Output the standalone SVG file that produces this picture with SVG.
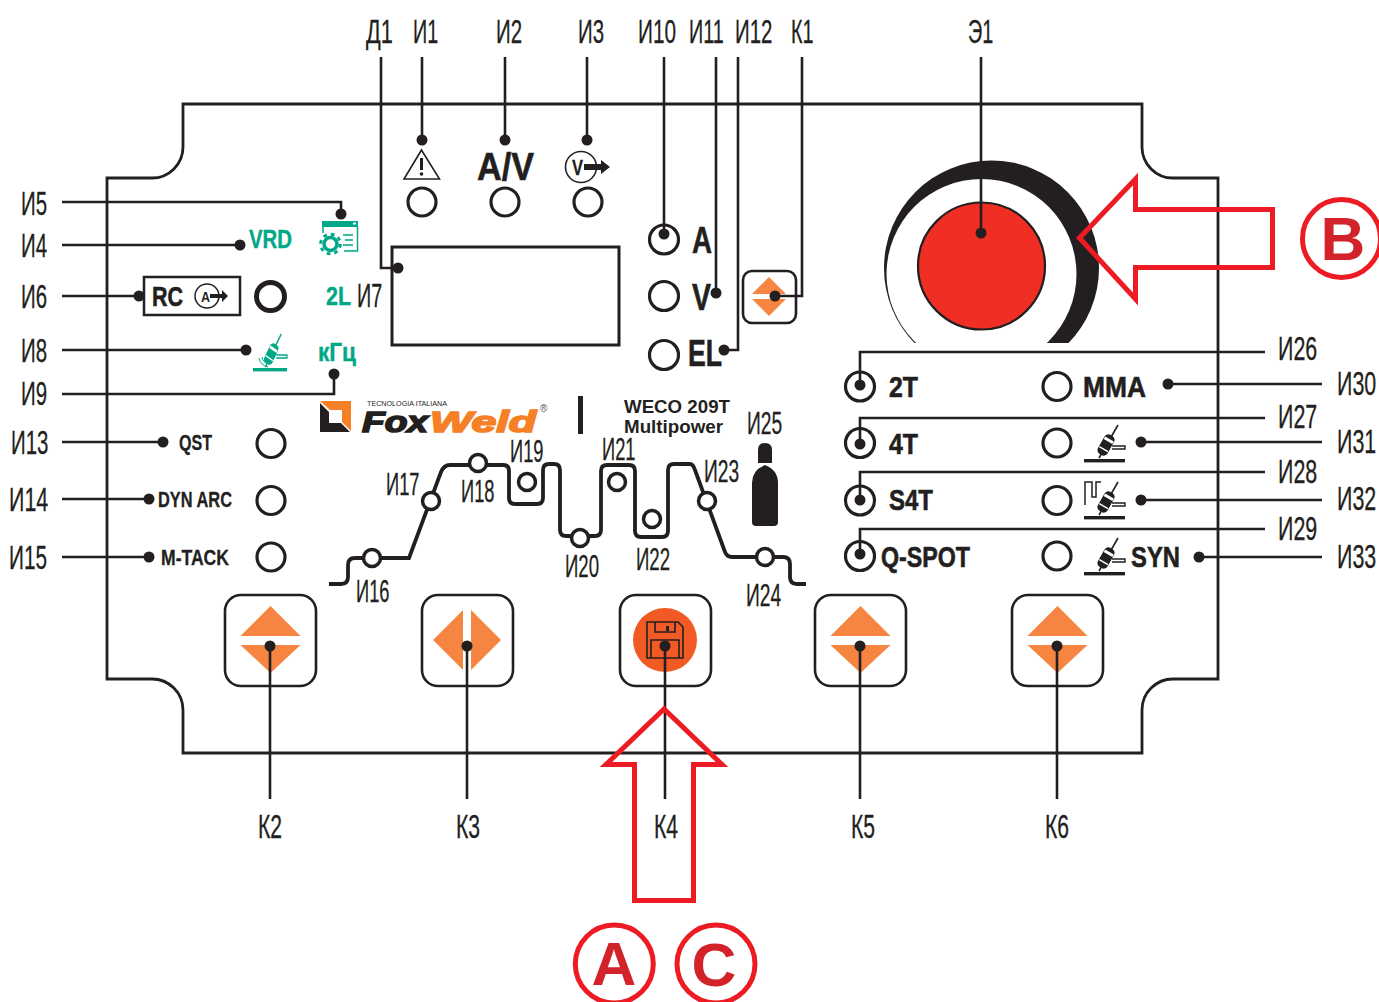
<svg xmlns="http://www.w3.org/2000/svg" xmlns:xlink="http://www.w3.org/1999/xlink" width="1379" height="1002" viewBox="0 0 1379 1002">
<style>
text{font-family:"Liberation Sans",Arial,sans-serif;fill:#231f20}
.l{font-size:33px;stroke:#231f20;stroke-width:.3}
.m{font-size:31px;stroke:#231f20;stroke-width:.3}
.b{font-family:"Liberation Sans Narrow","Liberation Sans",Arial,sans-serif;font-weight:bold;font-size:29px;stroke:#231f20;stroke-width:.6;font-kerning:none}
.s{font-family:"Liberation Sans Narrow","Liberation Sans",Arial,sans-serif;font-weight:bold;font-size:22px;stroke:#231f20;stroke-width:.3}
.g{font-family:"Liberation Sans Narrow","Liberation Sans",Arial,sans-serif;fill:#00a887;stroke:#00a887;stroke-width:.4;font-weight:bold;font-size:25px}
.w{font-weight:bold;font-size:17.5px}
.ri{fill:none;stroke:#231f20;stroke-width:3.2}
.big{font-weight:bold;font-size:62px;fill:#d2232a;text-anchor:middle}
.rc{fill:none;stroke:#ed1c24;stroke-width:5}
.btn{fill:#fff;stroke:#231f20;stroke-width:2.6}
.or{fill:#f58540}
.con path,.con line{fill:none;stroke:#231f20;stroke-width:2.6}
.con circle{fill:#231f20}
.cv{fill:none;stroke:#231f20;stroke-width:3.8}
.cr{fill:#fff;stroke:#231f20;stroke-width:3.5}
</style>
<defs>
<clipPath id="kc"><rect x="870" y="150" width="240" height="193"/></clipPath>
<g id="torch">
<line x1="34" y1="0" x2="15" y2="33" stroke="currentColor" stroke-width="1.6"/>
<rect x="16.500" y="9" width="11" height="22" rx="4.500" transform="rotate(30 22 20)" fill="currentColor"/>
<rect x="17" y="13" width="10" height="3" transform="rotate(30 22 20)" fill="#fff"/>
<rect x="17" y="24" width="10" height="1.500" transform="rotate(30 22 20)" fill="#fff"/>
<path d="M28 21H41V24H28" fill="none" stroke="currentColor" stroke-width="1.400"/>
<rect x="0" y="34" width="41" height="3.400" fill="currentColor"/>
</g>
<g id="updown">
<polygon class="or" points="0,-40 30,-10 -30,-10"/>
<polygon class="or" points="-30,-1 30,-1 0,27"/>
</g>
</defs>
<rect width="1379" height="1002" fill="#fff"/>
<g id="body"><path d="M183 104H1142V147A31 31 0 0 0 1173 178H1218V679H1173A31 31 0 0 0 1142 710V753H183V710A31 31 0 0 0 152 679H107V178H152A31 31 0 0 0 183 147Z" fill="none" stroke="#231f20" stroke-width="2.800"/></g>

<g id="knob-E1">
<circle cx="991.500" cy="268" r="107.500" fill="#231f20" clip-path="url(#kc)"/>
<circle cx="981.500" cy="274" r="95" fill="#fff"/>
<rect x="880" y="343" width="230" height="8" fill="#fff"/>
<circle cx="981.500" cy="266" r="63.500" fill="#f02e23" stroke="#231f20" stroke-width="2.200"/>
</g>

<g id="D1-display"><rect x="392" y="247" width="227" height="98" fill="none" stroke="#231f20" stroke-width="3"/></g>

<g id="I1"><polygon points="421.500,150 404,179 439.500,179" fill="none" stroke="#231f20" stroke-width="1.600"/><rect x="420" y="158" width="3" height="12" fill="#231f20"/><circle cx="421.500" cy="174" r="1.800" fill="#231f20"/><circle class="ri" cx="422" cy="202" r="14"/></g>
<g id="I2"><text class="b" x="477" y="180" style="font-size:38px" textLength="57" lengthAdjust="spacingAndGlyphs">A/V</text><circle class="ri" cx="505" cy="202" r="14"/></g>
<g id="I3"><circle cx="581" cy="167" r="15.500" fill="none" stroke="#231f20" stroke-width="1.600"/><text class="s" x="572" y="175" textLength="11" lengthAdjust="spacingAndGlyphs">V</text><polygon points="584,164 601,164 601,160 610,167 601,174 601,170 584,170" fill="#231f20"/><circle class="ri" cx="588" cy="202" r="14"/></g>

<g id="I10"><circle class="ri" cx="664" cy="239.500" r="14.500"/><text class="b" x="692" y="253" style="font-size:36px" textLength="20" lengthAdjust="spacingAndGlyphs">A</text></g>
<g id="I11"><circle class="ri" cx="664" cy="296" r="14.500"/><text class="b" x="692" y="310" style="font-size:36px" textLength="19" lengthAdjust="spacingAndGlyphs">V</text></g>
<g id="I12"><circle class="ri" cx="664" cy="355" r="14.500"/><text class="b" x="688" y="366" style="font-size:36px" textLength="34" lengthAdjust="spacingAndGlyphs">EL</text></g>
<g id="K1"><rect class="btn" x="743" y="271" width="53" height="52" rx="9"/><polygon class="or" points="769,277 786,294 752,294"/><polygon class="or" points="752,299 786,299 769,316"/></g>

<g id="I5"><rect x="322" y="221" width="36" height="6" fill="#00a887"/><rect x="353" y="222.500" width="3" height="2" fill="#fff"/><path d="M323 233V227M357.500 227V251H344" fill="none" stroke="#00a887" stroke-width="1.500"/><path d="M343 235H353M345 240H353M343 245H353" stroke="#00a887" stroke-width="1.500"/><circle cx="330.500" cy="244" r="6.500" fill="#fff" stroke="#00a887" stroke-width="3.500"/><circle cx="330.500" cy="244" r="9.800" fill="none" stroke="#00a887" stroke-width="3" stroke-dasharray="3.700 4"/></g>
<g id="I4"><text class="g" x="249" y="248" textLength="43" lengthAdjust="spacingAndGlyphs">VRD</text></g>
<g id="I6"><rect x="144" y="277" width="96" height="38" fill="#fff" stroke="#231f20" stroke-width="2.500"/><text class="b" x="152" y="306" style="font-size:27px" textLength="31" lengthAdjust="spacingAndGlyphs">RC</text><circle cx="207" cy="296" r="12" fill="none" stroke="#231f20" stroke-width="1.500"/><text x="201" y="302" style="font-size:15px;font-weight:bold" textLength="9" lengthAdjust="spacingAndGlyphs">A</text><polygon points="210,294 222,294 222,290 228,296 222,302 222,298 210,298" fill="#231f20"/><circle cx="270.500" cy="296.500" r="14" fill="none" stroke="#231f20" stroke-width="5"/></g>
<g id="I7"><text class="g" x="326" y="305" style="font-size:26px" textLength="25" lengthAdjust="spacingAndGlyphs">2L</text><text class="l" transform="translate(357 307) scale(.6 1)">И7</text></g>
<g id="I8" color="#00a887"><use xlink:href="#torch" href="#torch" transform="translate(253 334) scale(.83 1)"/><path d="M262 357Q263 363 269 364M259 358Q260 365 268 367" fill="none" stroke="#00a887" stroke-width="1"/></g>
<g id="I9"><text class="g" x="318" y="361" textLength="38" lengthAdjust="spacingAndGlyphs">кГц</text></g>

<g id="I13"><text class="s" x="179" y="450" textLength="33" lengthAdjust="spacingAndGlyphs">QST</text><circle class="ri" cx="271" cy="443.500" r="14"/></g>
<g id="I14"><text class="s" x="158" y="507" textLength="74" lengthAdjust="spacingAndGlyphs">DYN ARC</text><circle class="ri" cx="271" cy="500.500" r="14"/></g>
<g id="I15"><text class="s" x="161" y="565" textLength="68" lengthAdjust="spacingAndGlyphs">M-TACK</text><circle class="ri" cx="271" cy="557" r="14"/></g>

<g id="logo">
<polygon points="320,401 351,401 351,431 342,422 342,410 330,410" fill="#f58025"/>
<polygon points="320,403 329,412 329,423 341,423 350,432 320,432" fill="#231f20"/>
<text x="367" y="406" style="font-size:7px" textLength="80" lengthAdjust="spacingAndGlyphs">TECNOLOGIA ITALIANA</text>
<text x="362" y="432" style="font-size:29px;font-weight:bold;font-style:italic;stroke:#231f20;stroke-width:1.600" textLength="66" lengthAdjust="spacingAndGlyphs">Fox</text>
<text x="430" y="432" style="font-size:29px;font-weight:bold;font-style:italic;fill:#f58025;stroke:#f58025;stroke-width:1.600" textLength="106" lengthAdjust="spacingAndGlyphs">Weld</text>
<text x="540" y="412" style="font-size:10px;fill:#555">®</text>
<rect x="578" y="396" width="5" height="38" fill="#231f20"/>
</g>
<g id="model"><text class="w" x="624" y="413" textLength="106" lengthAdjust="spacingAndGlyphs">WECO 209T</text><text class="w" x="624" y="433" textLength="99" lengthAdjust="spacingAndGlyphs">Multipower</text></g>

<g id="weld-cycle">
<path class="cv" d="M329 584H341Q348 584 348 577V565Q348 558 355 558H409L441 472Q444 465 450 465H503Q509 465 509 471V498Q509 504 515 504H537Q543 504 543 498V470Q543 464 549 464H554Q560 464 560 470V530Q560 536 566 536H595Q601 536 601 530V471Q601 465 607 465H629Q635 465 635 471V531Q635 537 641 537H662Q668 537 668 531V470Q668 464 674 464H690Q693 464 695 470L725 552Q727 557 732 557H783Q790 557 790 564V577Q790 584 797 584H806"/>
<circle class="cr" cx="372" cy="558" r="8.500"/><circle class="cr" cx="431" cy="501" r="8.500"/><circle class="cr" cx="478" cy="463" r="8.500"/><circle class="cr" cx="527" cy="482" r="8.500"/><circle class="cr" cx="580" cy="538" r="8.500"/><circle class="cr" cx="617" cy="482" r="8.500"/><circle class="cr" cx="652" cy="519" r="8.500"/><circle class="cr" cx="707" cy="501" r="8.500"/><circle class="cr" cx="765" cy="557" r="8.500"/>
</g>
<g id="I25"><path d="M758 463V450Q758 443 765 443Q772 443 772 450V463Z" fill="#231f20"/><path d="M752 522V483Q752 470 765 465Q778 470 778 483V522Q778 526 774 526H756Q752 526 752 522Z" fill="#231f20"/></g>

<g id="I26"><circle class="ri" cx="860" cy="386.500" r="14.500"/><text class="b" x="889" y="397" textLength="29" lengthAdjust="spacingAndGlyphs">2T</text></g>
<g id="I27"><circle class="ri" cx="860" cy="443" r="14.500"/><text class="b" x="889" y="454" textLength="29" lengthAdjust="spacingAndGlyphs">4T</text></g>
<g id="I28"><circle class="ri" cx="860" cy="500.500" r="14.500"/><text class="b" x="889" y="510" textLength="44" lengthAdjust="spacingAndGlyphs">S4T</text></g>
<g id="I29"><circle class="ri" cx="860" cy="556" r="14.500"/><text class="b" x="881" y="567" textLength="89" lengthAdjust="spacingAndGlyphs">Q-SPOT</text></g>
<g id="I30"><circle class="ri" cx="1057" cy="386.500" r="14"/><text class="b" x="1083" y="397" textLength="63" lengthAdjust="spacingAndGlyphs">MMA</text></g>
<g id="I31" color="#231f20"><circle class="ri" cx="1057" cy="443" r="14"/><use xlink:href="#torch" href="#torch" transform="translate(1084 425)"/></g>
<g id="I32" color="#231f20"><circle class="ri" cx="1057" cy="500.500" r="14"/><path d="M1085 505V482H1092V497H1096V482H1101" fill="none" stroke="#231f20" stroke-width="1.500"/><use xlink:href="#torch" href="#torch" transform="translate(1084 482)"/></g>
<g id="I33" color="#231f20"><circle class="ri" cx="1057" cy="556" r="14"/><use xlink:href="#torch" href="#torch" transform="translate(1084 538)"/><text class="b" x="1131" y="567" textLength="49" lengthAdjust="spacingAndGlyphs">SYN</text></g>

<g id="K2"><rect class="btn" x="225" y="595" width="91" height="91" rx="16"/><use xlink:href="#updown" href="#updown" transform="translate(270.500 646)"/></g>
<g id="K3"><rect class="btn" x="422" y="595" width="91" height="91" rx="16"/><polygon class="or" points="433,640 463,610 463,670"/><polygon class="or" points="471,610 501,640 471,670"/></g>
<g id="K4"><rect class="btn" x="620" y="595" width="91" height="91" rx="16"/><circle cx="665" cy="640" r="32" fill="#f15a24"/><path d="M647 622H678L683 627V658H647ZM655 622V632H675V622M651 658V640H679V658" fill="none" stroke="#231f20" stroke-width="1.600"/><rect x="666" y="626" width="3" height="5" fill="#231f20"/></g>
<g id="K5"><rect class="btn" x="815" y="595" width="91" height="91" rx="16"/><use xlink:href="#updown" href="#updown" transform="translate(860.500 646)"/></g>
<g id="K6"><rect class="btn" x="1012" y="595" width="91" height="91" rx="16"/><use xlink:href="#updown" href="#updown" transform="translate(1057.500 646)"/></g>

<g id="connectors" class="con">
<path d="M381 57V268H398"/><circle cx="398" cy="268" r="5.500"/>
<path d="M422 57V140"/><circle cx="422" cy="140" r="5.500"/>
<path d="M505 57V140"/><circle cx="505" cy="140" r="5.500"/>
<path d="M587 57V140"/><circle cx="587" cy="140" r="5.500"/>
<path d="M664 57V234"/><circle cx="664" cy="234" r="5.500"/>
<path d="M716 57V293"/><circle cx="716" cy="293" r="5.500"/>
<path d="M738 57V350H723"/><circle cx="724" cy="350" r="5.500"/>
<path d="M802 57V296H775"/><circle cx="775" cy="296" r="5.500"/>
<path d="M981 57V233"/><circle cx="981" cy="233" r="5.500"/>
<path d="M62 202H341V214"/><circle cx="341" cy="214" r="5.500"/>
<path d="M62 245H240"/><circle cx="240" cy="245" r="5.500"/>
<path d="M62 296H139"/><circle cx="139" cy="296" r="5.500"/>
<path d="M62 350H246"/><circle cx="246" cy="350" r="5.500"/>
<path d="M62 394H334V374"/><circle cx="334" cy="374" r="5.500"/>
<path d="M62 442H163"/><circle cx="163" cy="442" r="5.500"/>
<path d="M62 499H149"/><circle cx="149" cy="499" r="5.500"/>
<path d="M62 557H149"/><circle cx="149" cy="557" r="5.500"/>
<path d="M1265 352H860V385"/><circle cx="860" cy="385" r="5.500"/>
<path d="M1265 418H860V444"/><circle cx="860" cy="444" r="5.500"/>
<path d="M1265 472H860V500"/><circle cx="860" cy="500" r="5.500"/>
<path d="M1265 529H860V554"/><circle cx="860" cy="554" r="5.500"/>
<path d="M1322 384H1168"/><circle cx="1168" cy="384" r="5.500"/>
<path d="M1322 442H1141"/><circle cx="1141" cy="442" r="5.500"/>
<path d="M1322 500H1141"/><circle cx="1141" cy="500" r="5.500"/>
<path d="M1322 557H1199"/><circle cx="1199" cy="557" r="5.500"/>
<path d="M270 799V646"/><circle cx="270" cy="646" r="5.500"/>
<path d="M467 799V646"/><circle cx="467" cy="646" r="5.500"/>
<path d="M665 799V646"/><circle cx="665" cy="646" r="5.500"/>
<path d="M860 799V646"/><circle cx="860" cy="646" r="5.500"/>
<path d="M1057 799V646"/><circle cx="1057" cy="646" r="5.500"/>
</g>

<g id="labels">
<text class="l" transform="translate(366 43) scale(.66 1)">Д1</text>
<text class="l" transform="translate(413 43) scale(.6 1)">И1</text>
<text class="l" transform="translate(496 43) scale(.62 1)">И2</text>
<text class="l" transform="translate(578 43) scale(.62 1)">И3</text>
<text class="l" transform="translate(638 43) scale(.63 1)">И10</text>
<text class="l" transform="translate(689 43) scale(.6 1)">И11</text>
<text class="l" transform="translate(735 43) scale(.62 1)">И12</text>
<text class="l" transform="translate(791 43) scale(.6 1)">К1</text>
<text class="l" transform="translate(968 43) scale(.6 1)">Э1</text>
<text class="l" transform="translate(21 215) scale(.62 1)">И5</text>
<text class="l" transform="translate(21 257) scale(.62 1)">И4</text>
<text class="l" transform="translate(21 308) scale(.62 1)">И6</text>
<text class="l" transform="translate(21 362) scale(.62 1)">И8</text>
<text class="l" transform="translate(21 405) scale(.62 1)">И9</text>
<text class="l" transform="translate(11 454) scale(.62 1)">И13</text>
<text class="l" transform="translate(9 511) scale(.65 1)">И14</text>
<text class="l" transform="translate(9 569) scale(.63 1)">И15</text>
<text class="l" transform="translate(1278 360) scale(.65 1)">И26</text>
<text class="l" transform="translate(1278 428) scale(.65 1)">И27</text>
<text class="l" transform="translate(1278 483) scale(.65 1)">И28</text>
<text class="l" transform="translate(1278 540) scale(.65 1)">И29</text>
<text class="l" transform="translate(1337 395) scale(.65 1)">И30</text>
<text class="l" transform="translate(1337 453) scale(.65 1)">И31</text>
<text class="l" transform="translate(1337 510) scale(.65 1)">И32</text>
<text class="l" transform="translate(1337 568) scale(.65 1)">И33</text>
<text class="m" transform="translate(356 602) scale(.59 1)">И16</text>
<text class="m" transform="translate(386 495) scale(.59 1)">И17</text>
<text class="m" transform="translate(461 502) scale(.59 1)">И18</text>
<text class="m" transform="translate(510 462) scale(.59 1)">И19</text>
<text class="m" transform="translate(565 577) scale(.6 1)">И20</text>
<text class="m" transform="translate(602 460) scale(.59 1)">И21</text>
<text class="m" transform="translate(636 570) scale(.6 1)">И22</text>
<text class="m" transform="translate(704 482) scale(.62 1)">И23</text>
<text class="m" transform="translate(746 606) scale(.62 1)">И24</text>
<text class="m" transform="translate(747 434) scale(.62 1)">И25</text>
<text class="l" transform="translate(258 838) scale(.64 1)">К2</text>
<text class="l" transform="translate(456 838) scale(.64 1)">К3</text>
<text class="l" transform="translate(654 838) scale(.64 1)">К4</text>
<text class="l" transform="translate(851 838) scale(.64 1)">К5</text>
<text class="l" transform="translate(1045 838) scale(.64 1)">К6</text>
</g>

<g id="callout-B"><polygon class="rc" points="1079.500,238 1135.500,179 1135.500,209.500 1272.500,209.500 1272.500,267.500 1135.500,267.500 1135.500,299"/><circle class="rc" cx="1341.500" cy="238.500" r="39"/><text class="big" x="1343" y="260">B</text></g>
<g id="callout-AC"><polygon class="rc" points="664,709 606,764.500 634.500,764.500 634.500,900.500 693.500,900.500 693.500,764.500 722,764.500"/><circle class="rc" cx="614.300" cy="964" r="39"/><text class="big" x="614" y="985">A</text><circle class="rc" cx="716" cy="964" r="39"/><text class="big" x="714" y="986">C</text></g>
</svg>
